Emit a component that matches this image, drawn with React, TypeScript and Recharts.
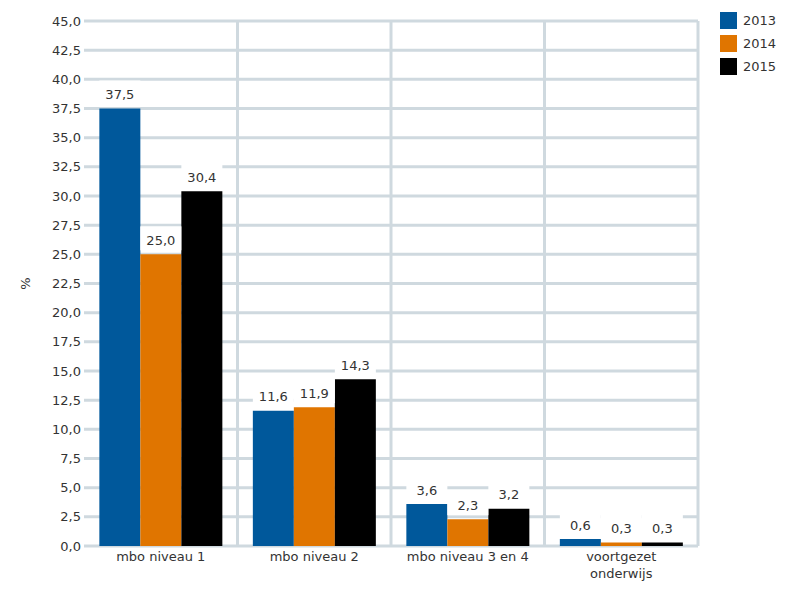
import { BarChart, Bar, XAxis, YAxis, CartesianGrid, Legend, LabelList, Text } from 'recharts'

const categories = ['mbo niveau 1', 'mbo niveau 2', 'mbo niveau 3 en 4', 'voortgezet onderwijs']
const values2013 = [37.5, 11.6, 3.6, 0.6]
const values2014 = [25.0, 11.9, 2.3, 0.3]
const values2015 = [30.4, 14.3, 3.2, 0.3]
const yTicks = [0, 2.5, 5, 7.5, 10, 12.5, 15, 17.5, 20, 22.5, 25, 27.5, 30, 32.5, 35, 37.5, 40, 42.5, 45]

const SERIES = [
  { key: 'y2013', name: '2013', color: '#00589b' },
  { key: 'y2014', name: '2014', color: '#e07500' },
  { key: 'y2015', name: '2015', color: '#000000' },
]

const data = categories.map((c, i) => ({
  name: c,
  y2013: values2013[i],
  y2014: values2014[i],
  y2015: values2015[i],
}))

const FONT = '"DejaVu Sans", Verdana, sans-serif'
const TEXT_COLOR = '#333333'
const GRID_COLOR = '#cfd9df'
const LEGEND_W = 70
// right margin: 102px gap right of the plot, minus the space the legend reserves
const CHART_MARGIN = { top: 21, right: 102 - LEGEND_W, bottom: 24, left: 0 }
const CHART_W = 800
const CHART_H = 600

const fmt = (v: number) => v.toFixed(1).replace('.', ',')

// eslint-disable-next-line @typescript-eslint/no-explicit-any
const verticalBoundaries = (props: any) => {
  const off = props?.offset
  const left = off?.left ?? 84
  const width = off?.width ?? 614
  return categories.map((_, i) => left + ((i + 1) * width) / categories.length)
}

// eslint-disable-next-line @typescript-eslint/no-explicit-any
const BarLabel = (props: any) => {
  const { x, y, width, value } = props
  if (value == null) return null
  return (
    <g>
      <rect x={x} y={y - 28} width={width} height={24} fill="#ffffff" />
      <text
        x={x + width / 2}
        y={y - 14}
        textAnchor="middle"
        dominantBaseline="central"
        fontSize={13}
        fontFamily={FONT}
        fill={TEXT_COLOR}
      >
        {fmt(value)}
      </text>
    </g>
  )
}

// eslint-disable-next-line @typescript-eslint/no-explicit-any
const CategoryTick = (props: any) => {
  const { x, y, payload } = props
  return (
    <Text
      x={x}
      y={y}
      width={128}
      textAnchor="middle"
      verticalAnchor="start"
      lineHeight={17}
      fontSize={13}
      fontFamily={FONT}
      fill={TEXT_COLOR}
    >
      {payload.value}
    </Text>
  )
}

const LegendContent = () => (
  <div style={{ fontFamily: FONT, fontSize: 13, color: TEXT_COLOR }}>
    {SERIES.map((s) => (
      <div key={s.key} style={{ display: 'flex', alignItems: 'center', height: 23 }}>
        <span style={{ display: 'inline-block', width: 17, height: 17, background: s.color, marginRight: 6 }} />
        <span>{s.name}</span>
      </div>
    ))}
  </div>
)

export default function App() {
  return (
    <div style={{ position: 'absolute', left: 0, top: 0, width: CHART_W, height: CHART_H, background: '#fff' }}>
      <BarChart
        width={CHART_W}
        height={CHART_H}
        data={data}
        margin={CHART_MARGIN}
        barCategoryGap="10%"
        barGap={0}
      >
        <CartesianGrid
          stroke={GRID_COLOR}
          strokeWidth={3}
          horizontal
          vertical
          verticalCoordinatesGenerator={verticalBoundaries}
        />
        <XAxis
          dataKey="name"
          height={30}
          axisLine={false}
          tickLine={false}
          interval={0}
          tick={<CategoryTick />}
          tickMargin={0}
        />
        <YAxis
          width={84}
          domain={[0, 45]}
          ticks={yTicks}
          interval={0}
          axisLine={false}
          tickLine={false}
          tickSize={3}
          tickMargin={0}
          tickFormatter={fmt}
          tick={{ fontSize: 13, fontFamily: FONT, fill: TEXT_COLOR }}
          label={{
            value: '%',
            angle: -90,
            position: 'insideLeft',
            offset: 25,
            style: { fontSize: 13, fontFamily: FONT, fill: TEXT_COLOR, textAnchor: 'middle' },
          }}
        />
        <Legend
          layout="vertical"
          verticalAlign="top"
          align="right"
          width={LEGEND_W}
          content={<LegendContent />}
          wrapperStyle={{ position: 'absolute', left: 720, top: 9, width: LEGEND_W }}
        />
        {SERIES.map((s) => (
          <Bar key={s.key} dataKey={s.key} name={s.name} fill={s.color} isAnimationActive={false}>
            <LabelList dataKey={s.key} content={<BarLabel />} />
          </Bar>
        ))}
      </BarChart>
    </div>
  )
}
